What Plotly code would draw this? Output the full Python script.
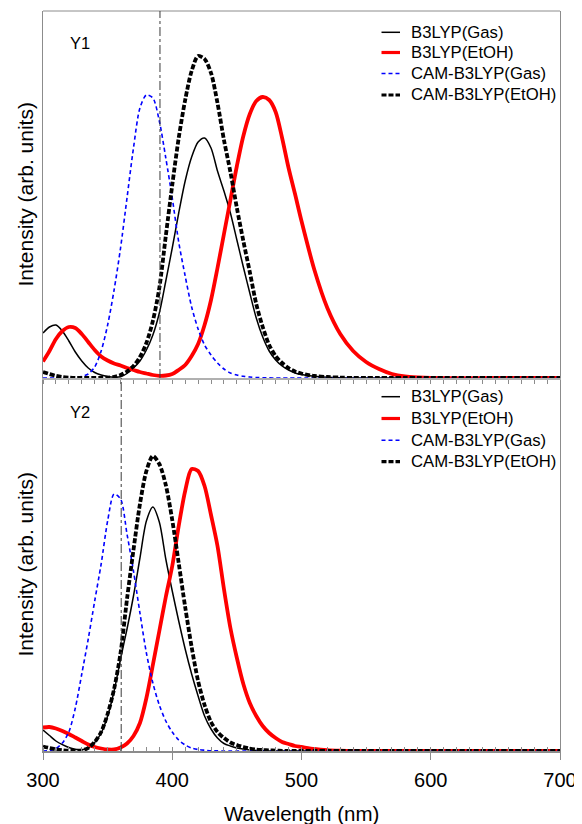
import plotly.graph_objects as go

# Wavelength grid (nm)
wavelength = [300, 305, 310, 315, 320, 325, 330, 335, 340, 345, 350, 355, 360, 365, 370, 375,
              380, 385, 390, 395, 400, 405, 410, 415, 420, 425, 430, 435, 440, 445, 450, 455,
              460, 465, 470, 475, 480, 485, 490, 495, 500, 510, 520, 530, 540, 550, 560, 570,
              580, 590, 600, 650, 700]

# Panel Y1 (arb. units)
y1_b3lyp_gas = [0.45, 0.51, 0.53, 0.47, 0.37, 0.26, 0.17, 0.10, 0.055, 0.03, 0.015, 0.008, 0.012, 0.045, 0.10, 0.17,
                0.28, 0.43, 0.65, 0.97, 1.30, 1.65, 1.97, 2.21, 2.36, 2.40, 2.30, 2.07, 1.87, 1.65, 1.38, 1.11,
                0.85, 0.60, 0.41, 0.27, 0.18, 0.12, 0.08, 0.05, 0.035, 0.017, 0.008, 0.003, 0, 0, 0, 0,
                0, 0, 0, 0, 0]
y1_b3lyp_etoh = [0.165, 0.27, 0.39, 0.47, 0.51, 0.50, 0.44, 0.36, 0.28, 0.215, 0.175, 0.145, 0.125, 0.10, 0.08, 0.06,
                 0.045, 0.03, 0.022, 0.025, 0.04, 0.08, 0.13, 0.22, 0.34, 0.53, 0.78, 1.10, 1.44, 1.78, 2.12, 2.42,
                 2.64, 2.77, 2.81, 2.78, 2.66, 2.40, 2.10, 1.84, 1.57, 1.08, 0.70, 0.44, 0.27, 0.16, 0.09, 0.04,
                 0.015, 0.005, 0, 0, 0]
y1_cam_gas = [0, 0, 0, 0, 0.001, 0.004, 0.015, 0.04, 0.11, 0.27, 0.53, 0.88, 1.30, 1.80, 2.30, 2.70,
              2.83, 2.80, 2.57, 2.20, 1.80, 1.36, 1.02, 0.71, 0.49, 0.33, 0.23, 0.15, 0.09, 0.05, 0.03, 0.017,
              0.01, 0.005, 0.003, 0.001, 0, 0, 0, 0, 0, 0, 0, 0, 0, 0, 0, 0,
              0, 0, 0, 0, 0]
y1_cam_etoh = [0.06, 0.04, 0.022, 0.01, 0.004, 0.001, 0, 0, 0, 0.001, 0.004, 0.012, 0.03, 0.065, 0.12, 0.21,
               0.35, 0.57, 0.90, 1.42, 1.93, 2.40, 2.78, 3.07, 3.22, 3.19, 3.05, 2.75, 2.38, 2.06, 1.70, 1.37,
               1.06, 0.74, 0.51, 0.33, 0.22, 0.15, 0.10, 0.065, 0.045, 0.02, 0.01, 0.004, 0, 0, 0, 0,
               0, 0, 0, 0, 0]

# Panel Y2 (arb. units)
y2_b3lyp_gas = [0.21, 0.155, 0.10, 0.063, 0.035, 0.018, 0.012, 0.03, 0.085, 0.18, 0.35, 0.60, 0.92, 1.22, 1.55, 1.93,
                2.30, 2.44, 2.29, 1.92, 1.60, 1.30, 1.02, 0.77, 0.55, 0.35, 0.22, 0.13, 0.075, 0.05, 0.03, 0.02,
                0.01, 0.005, 0.003, 0.001, 0, 0, 0, 0, 0, 0, 0, 0, 0, 0, 0, 0,
                0, 0, 0, 0, 0]
y2_b3lyp_etoh = [0.235, 0.24, 0.225, 0.20, 0.17, 0.135, 0.10, 0.065, 0.04, 0.025, 0.015, 0.015, 0.035, 0.075, 0.15, 0.28,
                 0.53, 0.86, 1.20, 1.54, 1.85, 2.25, 2.60, 2.82, 2.80, 2.65, 2.36, 2.05, 1.62, 1.23, 0.93, 0.67,
                 0.48, 0.35, 0.25, 0.18, 0.13, 0.09, 0.07, 0.05, 0.04, 0.02, 0.008, 0.003, 0.001, 0, 0, 0,
                 0, 0, 0, 0, 0]
y2_cam_gas = [0, 0.004, 0.025, 0.08, 0.19, 0.43, 0.77, 1.12, 1.50, 1.87, 2.30, 2.57, 2.52, 2.17, 1.80, 1.38,
              0.98, 0.68, 0.46, 0.30, 0.19, 0.11, 0.06, 0.03, 0.015, 0.008, 0.003, 0.001, 0, 0, 0, 0,
              0, 0, 0, 0, 0, 0, 0, 0, 0, 0, 0, 0, 0, 0, 0, 0,
              0, 0, 0, 0, 0]
y2_cam_etoh = [0.045, 0.03, 0.017, 0.008, 0.003, 0.002, 0.006, 0.03, 0.09, 0.19, 0.37, 0.62, 0.98, 1.52, 2.01, 2.47,
               2.80, 2.95, 2.87, 2.66, 2.31, 1.88, 1.44, 1.04, 0.70, 0.46, 0.29, 0.19, 0.13, 0.085, 0.06, 0.04,
               0.025, 0.015, 0.01, 0.006, 0.004, 0.002, 0.001, 0, 0, 0, 0, 0, 0, 0, 0, 0,
               0, 0, 0, 0, 0]

series_names = ["B3LYP(Gas)", "B3LYP(EtOH)", "CAM-B3LYP(Gas)", "CAM-B3LYP(EtOH)"]
panel_labels = ["Y1", "Y2"]
marker_wavelengths = [390.5, 360.5]   # vertical dash-dot reference lines (Y1, Y2)
x_ticks = [300, 400, 500, 600, 700]

styles = [
    dict(color="#000000", width=1.5, dash="solid"),
    dict(color="#FF0000", width=3.8, dash="solid"),
    dict(color="#0000FF", width=1.6, dash="4px,3px"),
    dict(color="#000000", width=3.8, dash="5px,2px"),
]

fig = go.Figure()
panels = [("x2", "y2", [y1_b3lyp_gas, y1_b3lyp_etoh, y1_cam_gas, y1_cam_etoh]),
          ("x", "y", [y2_b3lyp_gas, y2_b3lyp_etoh, y2_cam_gas, y2_cam_etoh])]
for xa, ya, data in panels:
    for name, vals, st in zip(series_names, data, styles):
        fig.add_trace(go.Scatter(x=wavelength, y=vals, mode="lines", name=name,
                                 xaxis=xa, yaxis=ya, showlegend=False,
                                 line=dict(color=st["color"], width=st["width"], dash=st["dash"],
                                           shape="spline", smoothing=0.8)))

# page body has an 8px margin: figure origin sits at page (8, 8)
OFF = 8
W, H = 574, 816
ml, mr, mt, mb = 35, 22, 3, 73
pw, ph = W - ml - mr, H - mt - mb
split = 1 - 367 / ph

frame = "#8c8c8c"
font = "Liberation Sans, Arial, sans-serif"

fig.update_layout(
    width=W, height=H, margin=dict(l=ml, r=mr, t=mt, b=mb),
    paper_bgcolor="white", plot_bgcolor="white",
    font=dict(family=font, color="black"),
    xaxis=dict(domain=[0, 1], anchor="y", range=[300, 700], tickvals=x_ticks,
               showline=True, linecolor=frame, linewidth=1.5, mirror=False,
               ticks="outside", ticklen=7, tickcolor=frame, tickwidth=1, ticklabelstandoff=3,
               tickfont=dict(size=20, family=font, color="black"),
               minor=dict(dtick=10, ticks="inside", ticklen=4, tickcolor=frame, showgrid=False),
               showgrid=False, zeroline=False),
    yaxis=dict(domain=[0, split], anchor="x", range=[0, 3.73], showline=True, linecolor=frame,
               linewidth=1, mirror=True, ticks="", showticklabels=False, showgrid=False, zeroline=False),
    xaxis2=dict(domain=[0, 1], anchor="y2", range=[300, 700], matches="x", tickvals=x_ticks,
                showticklabels=False, showline=True, linecolor="#b0b0b0", linewidth=2, mirror=False,
                ticks="outside", ticklen=4, tickcolor=frame,
                minor=dict(dtick=10, ticks="outside", ticklen=4, tickcolor=frame, showgrid=False),
                showgrid=False, zeroline=False),
    yaxis2=dict(domain=[split, 1], anchor="x2", range=[0, 3.67], showline=True, linecolor=frame,
                linewidth=1, mirror=True, ticks="", showticklabels=False, showgrid=False, zeroline=False),
)

# top border of upper panel
fig.add_shape(type="line", xref="paper", yref="paper", x0=0, x1=1, y0=1, y1=1,
              line=dict(color=frame, width=1))

# vertical reference lines
for xa, ya, wl in [("x2", "y2", marker_wavelengths[0]), ("x", "y", marker_wavelengths[1])]:
    fig.add_shape(type="line", xref=xa, yref=f"{ya} domain", x0=wl, x1=wl, y0=0, y1=1,
                  line=dict(color="#3a3a3a", width=1, dash="dashdot"))

def py(ypage):
    return (H - mb - (ypage - OFF)) / ph

def px(xpage):
    return ((xpage - OFF) - ml) / pw

# manual legends
for rows in ([32.3, 52.5, 73.5, 95], [396.7, 418.5, 440.2, 461.7]):
    for name, st, ry in zip(series_names, styles, rows):
        fig.add_shape(type="line", xref="paper", yref="paper", x0=px(381.5), x1=px(400),
                      y0=py(ry), y1=py(ry),
                      line=dict(color=st["color"], width=min(st["width"], 3.2), dash=st["dash"]))
        fig.add_annotation(text=name, xref="paper", yref="paper", x=px(409), y=py(ry),
                           xanchor="left", yanchor="middle", showarrow=False,
                           font=dict(size=16.7, family=font, color="black"))

# panel labels
for lab, ry in zip(panel_labels, [43, 411.7]):
    fig.add_annotation(text=lab, xref="paper", yref="paper", x=px(80), y=py(ry),
                       xanchor="center", yanchor="middle", showarrow=False,
                       font=dict(size=16.5, family=font, color="black"))

# axis titles
for ry in [194.5, 564.5]:
    fig.add_annotation(text="Intensity (arb. units)", xref="paper", yref="paper", x=px(25), y=py(ry),
                       xanchor="center", yanchor="middle", showarrow=False, textangle=-90,
                       font=dict(size=21, family=font, color="black"))
fig.add_annotation(text="Wavelength (nm)", xref="paper", yref="paper", x=px(301.7), y=py(813),
                   xanchor="center", yanchor="middle", showarrow=False,
                   font=dict(size=20.5, family=font, color="black"))

fig.write_html("out.html")
